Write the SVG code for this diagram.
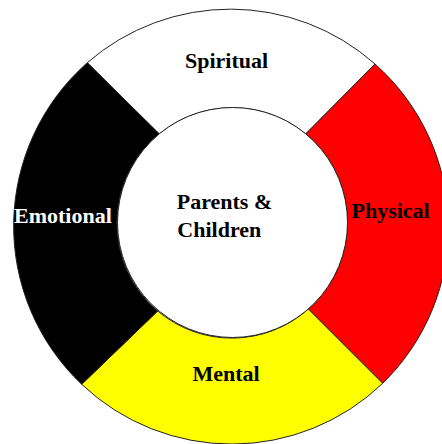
<svg xmlns="http://www.w3.org/2000/svg" width="442" height="444" viewBox="0 0 442 444">
<style>
.seg{stroke:#222;stroke-width:1;stroke-linejoin:round}
.lbl{font-family:"Liberation Serif","Times New Roman",serif;font-weight:bold;font-size:22px}
</style>
<rect width="442" height="444" fill="#fff"/>
<g id="spiritual">
<path class="seg" fill="#fff" d="M87.3,62.7 A218,218 0 0 1 375,64 L305.7,134 A115,115 0 0 0 159.3,134 Z"/>
<text class="lbl" x="185" y="68" fill="#000">Spiritual</text>
</g>
<g id="physical">
<path class="seg" fill="#ff0000" d="M375,64 A218,218 0 0 1 382.7,383.3 L308.3,309 A115,115 0 0 0 305.7,134 Z"/>
<text class="lbl" x="351.5" y="218" fill="#000">Physical</text>
</g>
<g id="mental">
<path class="seg" fill="#ffff00" d="M382.7,383.3 A218,218 0 0 1 81.7,384.3 L157.7,311 A115,115 0 0 0 308.3,309 Z"/>
<text class="lbl" x="192.5" y="381" fill="#000">Mental</text>
</g>
<g id="emotional">
<path class="seg" fill="#000" d="M81.7,384.3 A218,218 0 0 1 87.3,62.7 L159.3,134 A115,115 0 0 0 157.7,311 Z"/>
<text class="lbl" x="14" y="222.5" fill="#fff">Emotional</text>
</g>
<g id="center">
<circle cx="232.5" cy="222.5" r="115" fill="#fff" stroke="#222" stroke-width="1"/>
<text class="lbl" x="176.7" y="209" fill="#000">Parents &amp;</text>
<text class="lbl" x="177.3" y="237" fill="#000">Children</text>
</g>
</svg>
